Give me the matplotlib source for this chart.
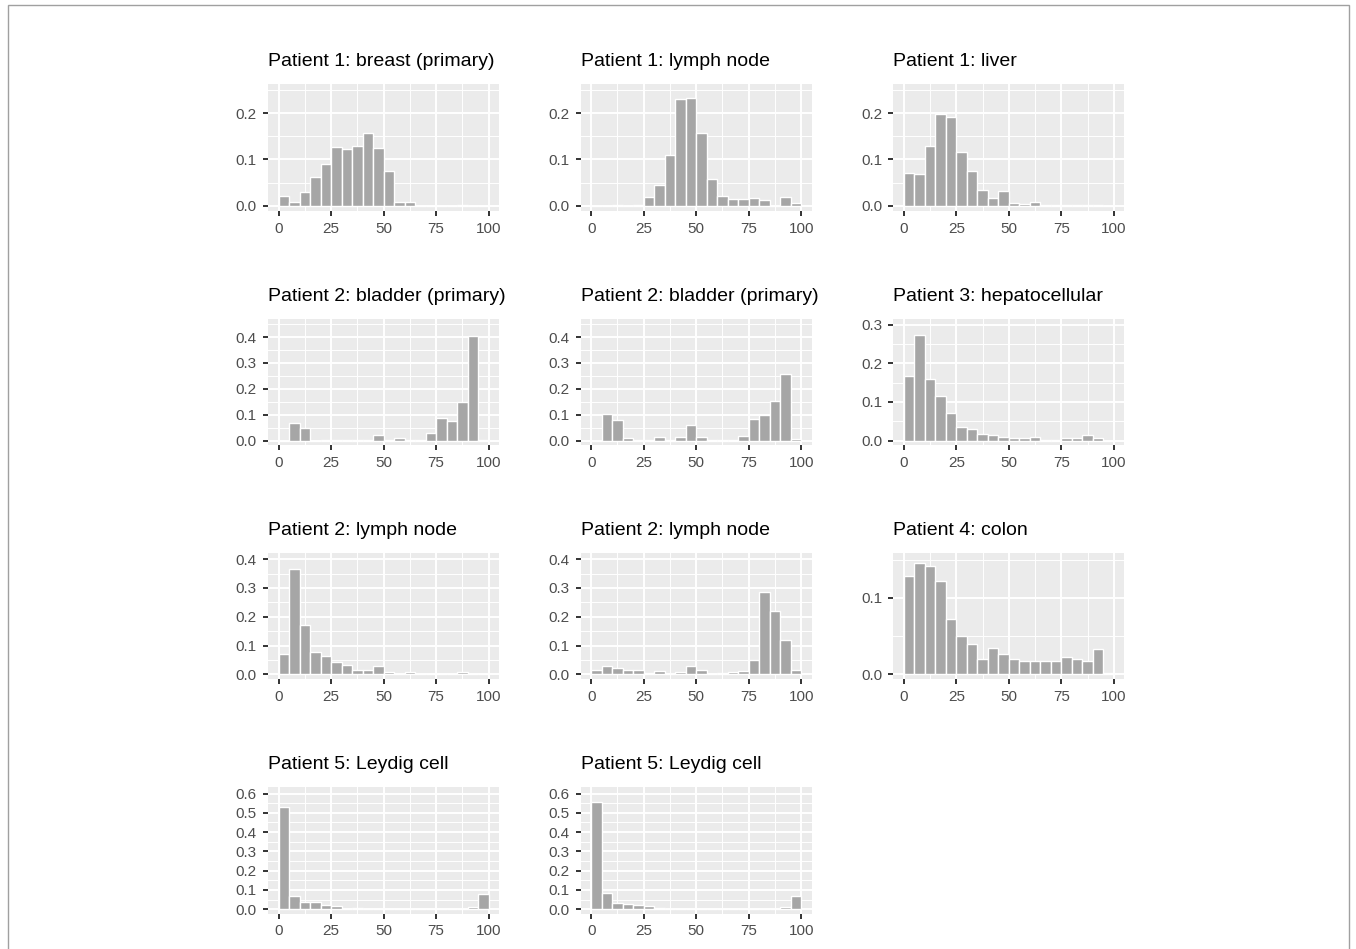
import numpy as np
import matplotlib
matplotlib.use("Agg")
import matplotlib.pyplot as plt
from matplotlib.patches import Rectangle
from matplotlib.ticker import MultipleLocator

plt.rcParams['font.family'] = ['Liberation Sans', 'DejaVu Sans']

# ---------------- data ----------------
bin_edges = list(range(0, 105, 5))   # 20 bins of width 5 from 0 to 100

titles = [
    "Patient 1: breast (primary)", "Patient 1: lymph node", "Patient 1: liver",
    "Patient 2: bladder (primary)", "Patient 2: bladder (primary)", "Patient 3: hepatocellular",
    "Patient 2: lymph node", "Patient 2: lymph node", "Patient 4: colon",
    "Patient 5: Leydig cell", "Patient 5: Leydig cell",
]

p1_breast = [0.020, 0.008, 0.030, 0.061, 0.091, 0.126, 0.123, 0.129, 0.157, 0.125,
             0.074, 0.007, 0.007, 0.0, 0.0, 0.0, 0.0, 0.002, 0.0, 0.0]
p1_lymph = [0.0, 0.0, 0.002, 0.0, 0.001, 0.018, 0.045, 0.110, 0.231, 0.232,
            0.157, 0.058, 0.020, 0.015, 0.015, 0.017, 0.013, 0.0, 0.018, 0.005]
p1_liver = [0.071, 0.069, 0.130, 0.198, 0.192, 0.116, 0.075, 0.033, 0.016, 0.031,
            0.005, 0.004, 0.008, 0.002, 0.002, 0.001, 0.001, 0.001, 0.0005, 0.0]
p2_bladder_a = [0.0, 0.066, 0.050, 0.0, 0.002, 0.001, 0.004, 0.002, 0.001, 0.020,
                0.003, 0.009, 0.002, 0.004, 0.030, 0.087, 0.076, 0.149, 0.406, 0.002]
p2_bladder_b = [0.0, 0.104, 0.078, 0.008, 0.002, 0.002, 0.013, 0.003, 0.013, 0.062,
                0.013, 0.001, 0.003, 0.001, 0.018, 0.083, 0.097, 0.153, 0.258, 0.006]
p3_hepato = [0.167, 0.274, 0.160, 0.114, 0.071, 0.034, 0.029, 0.017, 0.015, 0.008,
             0.006, 0.006, 0.008, 0.001, 0.001, 0.007, 0.006, 0.014, 0.007, 0.0]
p2_lymph_a = [0.070, 0.367, 0.170, 0.079, 0.065, 0.042, 0.031, 0.015, 0.015, 0.028,
              0.007, 0.002, 0.007, 0.003, 0.001, 0.001, 0.002, 0.007, 0.002, 0.001]
p2_lymph_b = [0.016, 0.029, 0.021, 0.016, 0.017, 0.006, 0.012, 0.001, 0.009, 0.028,
              0.017, 0.002, 0.004, 0.009, 0.011, 0.051, 0.287, 0.221, 0.121, 0.017]
p4_colon = [0.128, 0.145, 0.142, 0.122, 0.072, 0.050, 0.040, 0.020, 0.035, 0.026,
            0.020, 0.018, 0.018, 0.018, 0.018, 0.023, 0.020, 0.018, 0.033, 0.002]
p5_leydig_a = [0.529, 0.071, 0.036, 0.036, 0.024, 0.019, 0.003, 0.008, 0.001, 0.001,
               0.001, 0.001, 0.002, 0.001, 0.001, 0.001, 0.002, 0.001, 0.014, 0.081]
p5_leydig_b = [0.558, 0.085, 0.035, 0.026, 0.022, 0.016, 0.008, 0.003, 0.001, 0.001,
               0.001, 0.001, 0.001, 0.001, 0.001, 0.001, 0.001, 0.002, 0.010, 0.071]

series = [p1_breast, p1_lymph, p1_liver, p2_bladder_a, p2_bladder_b, p3_hepato,
          p2_lymph_a, p2_lymph_b, p4_colon, p5_leydig_a, p5_leydig_b]

x_ticks = [0, 25, 50, 75, 100]

# ---------------- layout (pixels) ----------------
W, H = 1356, 949
fig = plt.figure(figsize=(W / 100, H / 100), dpi=100)
fig.patch.set_facecolor('white')

# outer thin frame
fig.patches.append(Rectangle((8 / W, -0.01), (1349 - 8) / W, 1 - 5 / H + 0.01,
                             transform=fig.transFigure, fill=False,
                             edgecolor='#A0A0A0', linewidth=1.0))

col_left = [268.0, 580.7, 893.4]
panel_w = 231.0
row_top = [84.5, 318.7, 552.8, 787.0]
panel_h = 126.5

ylims = [(-0.0115, 0.262), (-0.0115, 0.262), (-0.0115, 0.262),
         (-0.018, 0.471), (-0.018, 0.471), (-0.012, 0.315),
         (-0.017, 0.422), (-0.017, 0.422), (-0.0066, 0.159),
         (-0.022, 0.634), (-0.022, 0.634)]

bg = '#EBEBEB'
bar_col = '#A6A6A6'
tick_col = '#333333'
lab_col = '#4D4D4D'

for i, (title, vals) in enumerate(zip(titles, series)):
    r, c = divmod(i, 3)
    l = col_left[c]
    t = row_top[r]
    ax = fig.add_axes([l / W, 1 - (t + panel_h) / H, panel_w / W, panel_h / H])
    ax.set_facecolor(bg)
    for s in ax.spines.values():
        s.set_visible(False)
    ax.set_xlim(-5, 105)
    ax.set_ylim(*ylims[i])
    ax.set_xticks(x_ticks)
    ax.xaxis.set_minor_locator(MultipleLocator(12.5))
    ax.yaxis.set_major_locator(MultipleLocator(0.1))
    ax.yaxis.set_minor_locator(MultipleLocator(0.05))
    ax.yaxis.set_major_formatter(matplotlib.ticker.FormatStrFormatter('%.1f'))
    ax.grid(which='major', color='white', linewidth=1.4)
    ax.grid(which='minor', color='white', linewidth=0.7)
    ax.set_axisbelow(True)
    ax.tick_params(which='major', length=3.6, width=1.4, color=tick_col,
                   labelsize=11, labelcolor=lab_col)
    ax.tick_params(axis='y', pad=4.5)
    ax.tick_params(axis='x', pad=4.0)
    ax.tick_params(which='minor', length=0)
    ax.bar(bin_edges[:-1], vals, width=5, align='edge', color=bar_col,
           edgecolor='white', linewidth=1.0, zorder=2)
    fig.text(l / W, 1 - (t - 18) / H, title, fontsize=14, color='black',
             ha='left', va='baseline')

fig.savefig('out.png', dpi=100)
